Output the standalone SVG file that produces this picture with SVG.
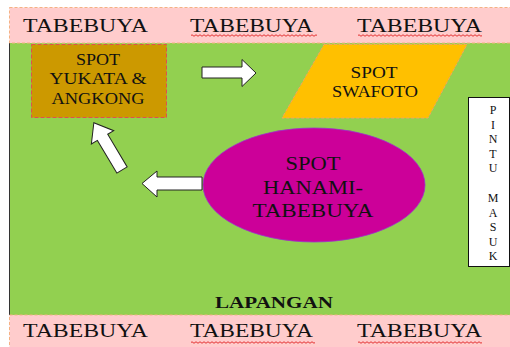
<svg xmlns="http://www.w3.org/2000/svg" width="510" height="347" viewBox="0 0 510 347">
<style>
.t{font-family:"Liberation Serif","Times New Roman",serif;fill:#111;}
.band{fill:#FFCCCC;stroke:#F4B183;stroke-width:1;stroke-dasharray:3,2;}
.tb{font-size:19px;}
.arrow{fill:#fff;stroke:#222;stroke-width:1;}
.wavy{fill:none;stroke:#E02020;stroke-width:0.9;}
</style>
<rect x="0" y="0" width="510" height="347" fill="#fff"/>
<g id="field">
<rect x="9" y="43" width="501" height="272" fill="#92D050"/>
<line x1="9.5" y1="43" x2="9.5" y2="315" stroke="#333" stroke-width="1"/>
<text class="t" x="274" y="308" font-size="17" font-weight="bold" text-anchor="middle" textLength="118" lengthAdjust="spacingAndGlyphs">LAPANGAN</text>
</g>
<g id="top-band">
<rect class="band" x="9.5" y="7.5" width="505" height="35.5"/>
<text class="t tb" x="23" y="32" textLength="125" lengthAdjust="spacingAndGlyphs">TABEBUYA</text>
<text class="t tb" x="190" y="32" textLength="123" lengthAdjust="spacingAndGlyphs">TABEBUYA</text>
<text class="t tb" x="357" y="32" textLength="125" lengthAdjust="spacingAndGlyphs">TABEBUYA</text>
<path class="wavy" d="M191 35.5 q1 -1.5 2 0 t2 0 t2 0 t2 0 t2 0 t2 0 t2 0 t2 0 t2 0 t2 0 t2 0 t2 0 t2 0 t2 0 t2 0 t2 0 t2 0 t2 0 t2 0 t2 0 t2 0 t2 0 t2 0 t2 0 t2 0 t2 0 t2 0 t2 0 t2 0 t2 0 t2 0 t2 0 t2 0 t2 0 t2 0 t2 0 t2 0 t2 0 t2 0 t2 0 t2 0 t2 0 t2 0 t2 0 t2 0 t2 0 t2 0 t2 0 t2 0 t2 0 t2 0 t2 0 t2 0 t2 0 t2 0 t2 0 t2 0 t2 0 t2 0 t2 0 t2 0 t2 0 t2 0"/>
<path class="wavy" d="M358 35.5 q1 -1.5 2 0 t2 0 t2 0 t2 0 t2 0 t2 0 t2 0 t2 0 t2 0 t2 0 t2 0 t2 0 t2 0 t2 0 t2 0 t2 0 t2 0 t2 0 t2 0 t2 0 t2 0 t2 0 t2 0 t2 0 t2 0 t2 0 t2 0 t2 0 t2 0 t2 0 t2 0 t2 0 t2 0 t2 0 t2 0 t2 0 t2 0 t2 0 t2 0 t2 0 t2 0 t2 0 t2 0 t2 0 t2 0 t2 0 t2 0 t2 0 t2 0 t2 0 t2 0 t2 0 t2 0 t2 0 t2 0 t2 0 t2 0 t2 0 t2 0 t2 0 t2 0 t2 0"/>
</g>
<g id="bottom-band">
<rect class="band" x="9.5" y="315" width="505" height="40"/>
<text class="t tb" x="23" y="337" textLength="125" lengthAdjust="spacingAndGlyphs">TABEBUYA</text>
<text class="t tb" x="190" y="337" textLength="123" lengthAdjust="spacingAndGlyphs">TABEBUYA</text>
<text class="t tb" x="357" y="337" textLength="125" lengthAdjust="spacingAndGlyphs">TABEBUYA</text>
<path class="wavy" d="M191 342.5 q1 -1.5 2 0 t2 0 t2 0 t2 0 t2 0 t2 0 t2 0 t2 0 t2 0 t2 0 t2 0 t2 0 t2 0 t2 0 t2 0 t2 0 t2 0 t2 0 t2 0 t2 0 t2 0 t2 0 t2 0 t2 0 t2 0 t2 0 t2 0 t2 0 t2 0 t2 0 t2 0 t2 0 t2 0 t2 0 t2 0 t2 0 t2 0 t2 0 t2 0 t2 0 t2 0 t2 0 t2 0 t2 0 t2 0 t2 0 t2 0 t2 0 t2 0 t2 0 t2 0 t2 0 t2 0 t2 0 t2 0 t2 0 t2 0 t2 0 t2 0 t2 0 t2 0 t2 0"/>
<path class="wavy" d="M358 342.5 q1 -1.5 2 0 t2 0 t2 0 t2 0 t2 0 t2 0 t2 0 t2 0 t2 0 t2 0 t2 0 t2 0 t2 0 t2 0 t2 0 t2 0 t2 0 t2 0 t2 0 t2 0 t2 0 t2 0 t2 0 t2 0 t2 0 t2 0 t2 0 t2 0 t2 0 t2 0 t2 0 t2 0 t2 0 t2 0 t2 0 t2 0 t2 0 t2 0 t2 0 t2 0 t2 0 t2 0 t2 0 t2 0 t2 0 t2 0 t2 0 t2 0 t2 0 t2 0 t2 0 t2 0 t2 0 t2 0 t2 0 t2 0 t2 0 t2 0 t2 0 t2 0 t2 0 t2 0"/>
</g>
<g id="spot-yukata">
<rect x="31.5" y="44.5" width="135" height="73" fill="#CC9900" stroke="#E05050" stroke-width="1" stroke-dasharray="4,2"/>
<text class="t" x="98" y="65" font-size="16" text-anchor="middle" textLength="44" lengthAdjust="spacingAndGlyphs">SPOT</text>
<text class="t" x="98" y="84" font-size="16" text-anchor="middle" textLength="97" lengthAdjust="spacingAndGlyphs">YUKATA &amp;</text>
<text class="t" x="98" y="104" font-size="16" text-anchor="middle" textLength="93" lengthAdjust="spacingAndGlyphs">ANGKONG</text>
</g>
<g id="spot-swafoto">
<polygon points="324,44.5 467,44.5 428,118 282,118" fill="#FFC000" stroke="#F4A460" stroke-width="1" stroke-dasharray="3,2"/>
<text class="t" x="374" y="78" font-size="16" text-anchor="middle" textLength="47" lengthAdjust="spacingAndGlyphs">SPOT</text>
<text class="t" x="375" y="97" font-size="16" text-anchor="middle" textLength="86" lengthAdjust="spacingAndGlyphs">SWAFOTO</text>
</g>
<g id="spot-hanami">
<ellipse cx="314" cy="185" rx="111" ry="57" fill="#CC0099" stroke="#9933CC" stroke-width="0.8"/>
<text class="t" x="313" y="170" font-size="19" text-anchor="middle" textLength="55" lengthAdjust="spacingAndGlyphs">SPOT</text>
<text class="t" x="313" y="194" font-size="19" text-anchor="middle" textLength="100" lengthAdjust="spacingAndGlyphs">HANAMI-</text>
<text class="t" x="313" y="217" font-size="19" text-anchor="middle" textLength="121" lengthAdjust="spacingAndGlyphs">TABEBUYA</text>
</g>
<g id="pintu-masuk">
<rect x="468.5" y="97.5" width="41" height="169" fill="#fff" stroke="#111" stroke-width="1"/>
<g class="t" font-size="12" text-anchor="middle">
<text x="493" y="114">P</text>
<text x="493" y="128.5">I</text>
<text x="493" y="143">N</text>
<text x="493" y="157.5">T</text>
<text x="493" y="172">U</text>
<text x="493" y="202">M</text>
<text x="493" y="216.5">A</text>
<text x="493" y="231">S</text>
<text x="493" y="245.5">U</text>
<text x="493" y="260">K</text>
</g>
</g>
<g id="connectors">
<polygon class="arrow" points="202,67 242,67 242,59.5 256,73 242,86.5 242,78 202,78"/>
<polygon class="arrow" points="202,177 157,177 157,171 142,183.5 157,197 157,190 202,190"/>
<polygon class="arrow" transform="translate(122,170) rotate(-120.8)" points="0,-6 38,-6 38,-13 55,0 38,13 38,6 0,6"/>
</g>
</svg>
